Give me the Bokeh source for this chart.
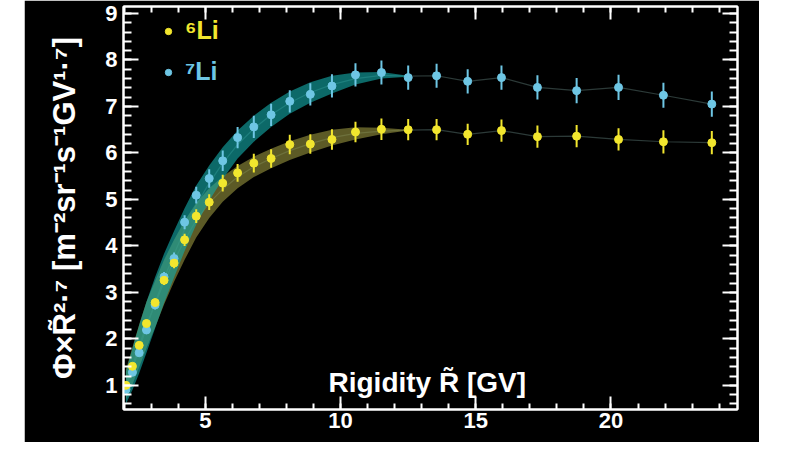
from bokeh.plotting import figure
from bokeh.models import (ColumnDataSource, Range1d, LinearAxis, SingleIntervalTicker,
                          Label, Legend, LegendItem, Spacer)
from bokeh.layouts import row
from bokeh.embed import file_html
from bokeh.resources import INLINE

# ---------------- data ----------------
rigidity = [2.06, 2.30, 2.55, 2.82, 3.14, 3.47, 3.84, 4.23, 4.66, 5.14,
            5.64, 6.19, 6.79, 7.43, 8.12, 8.88, 9.68, 10.55, 11.51, 12.50,
            13.55, 14.70, 15.95, 17.28, 18.73, 20.28, 21.94, 23.73]
li6 = [1.00, 1.41, 1.86, 2.33, 2.78, 3.26, 3.63, 4.13, 4.64, 4.94,
       5.35, 5.57, 5.78, 5.88, 6.18, 6.19, 6.29, 6.45, 6.51, 6.50,
       6.50, 6.40, 6.48, 6.35, 6.36, 6.29, 6.24, 6.22]
li6_err = [0.05, 0.06, 0.07, 0.08, 0.09, 0.10, 0.11, 0.13, 0.15, 0.17,
           0.18, 0.19, 0.20, 0.20, 0.21, 0.21, 0.22, 0.22, 0.23, 0.23,
           0.23, 0.23, 0.24, 0.24, 0.24, 0.24, 0.25, 0.25]
li7 = [0.91, 1.28, 1.70, 2.19, 2.73, 3.33, 3.73, 4.51, 5.09, 5.45,
       5.83, 6.33, 6.56, 6.82, 7.11, 7.26, 7.44, 7.68, 7.73, 7.62,
       7.66, 7.54, 7.62, 7.41, 7.34, 7.41, 7.24, 7.05]
li7_err = [0.05, 0.06, 0.07, 0.08, 0.10, 0.11, 0.13, 0.15, 0.18, 0.20,
           0.22, 0.23, 0.24, 0.24, 0.24, 0.24, 0.25, 0.25, 0.26, 0.26,
           0.26, 0.26, 0.26, 0.26, 0.27, 0.27, 0.27, 0.27]
# smooth model curves (centre of the systematic bands), up to ~12.5 GV
n_band = 20
li6_model = [1.02, 1.42, 1.85, 2.30, 2.75, 3.22, 3.68, 4.12, 4.55, 4.92,
             5.22, 5.48, 5.70, 5.88, 6.05, 6.20, 6.33, 6.42, 6.47, 6.49]
li7_model = [0.95, 1.35, 1.78, 2.25, 2.78, 3.30, 3.82, 4.35, 4.88, 5.35,
             5.78, 6.18, 6.52, 6.82, 7.08, 7.30, 7.47, 7.60, 7.67, 7.65]
# systematic band half-widths
li6_band = [0.32, 0.40, 0.46, 0.50, 0.50, 0.48, 0.45, 0.42, 0.37, 0.32,
            0.27, 0.24, 0.22, 0.21, 0.20, 0.19, 0.17, 0.13, 0.07, 0.01]
li7_band = [0.35, 0.45, 0.52, 0.55, 0.55, 0.53, 0.50, 0.46, 0.42, 0.38,
            0.34, 0.30, 0.28, 0.26, 0.24, 0.22, 0.19, 0.13, 0.07, 0.01]

legend_labels = ["\u2076Li", "\u2077Li"]
x_title = "Rigidity  R\u0303 [GV]"
y_title = "\u03a6\u00d7R\u0303\u00b2\u00b7\u2077 [m\u207b\u00b2sr\u207b\u00b9s\u207b\u00b9GV\u00b9\u00b7\u2077]"

YELLOW = "#f2e62e"
CYAN = "#6ec6e4"
FONT = "Liberation Sans"

src = ColumnDataSource(dict(
    x=rigidity,
    li6=li6, li6_lo=[v - e for v, e in zip(li6, li6_err)], li6_hi=[v + e for v, e in zip(li6, li6_err)],
    li7=li7, li7_lo=[v - e for v, e in zip(li7, li7_err)], li7_hi=[v + e for v, e in zip(li7, li7_err)],
))
band = ColumnDataSource(dict(
    x=rigidity[:n_band],
    li6_lo=[v - b for v, b in zip(li6_model, li6_band)],
    li6_hi=[v + b for v, b in zip(li6_model, li6_band)],
    li7_lo=[v - b for v, b in zip(li7_model, li7_band)],
    li7_hi=[v + b for v, b in zip(li7_model, li7_band)],
))
line6 = ColumnDataSource(dict(x=rigidity[:n_band] + rigidity[n_band:],
                              y=li6_model + li6[n_band:]))
line7 = ColumnDataSource(dict(x=rigidity[:n_band] + rigidity[n_band:],
                              y=li7_model + li7[n_band:]))

p = figure(width=735, height=442,
           x_range=Range1d(1.97, 24.68), y_range=Range1d(0.48, 9.15),
           output_backend="svg", toolbar_location=None,
           background_fill_color="black", border_fill_color="black",
           min_border_left=99, min_border_right=22, min_border_top=6, min_border_bottom=33,
           outline_line_color="white", outline_line_width=2,
           x_axis_location=None, y_axis_location=None)
p.xgrid.visible = False
p.ygrid.visible = False


def style_axis(ax, major_in, minor_in, show_labels):
    ax.axis_line_color = "white"
    ax.axis_line_width = 2
    ax.major_tick_line_color = "white"
    ax.minor_tick_line_color = "white"
    ax.major_tick_line_width = 2
    ax.minor_tick_line_width = 2
    ax.major_tick_in = major_in
    ax.major_tick_out = 0
    ax.minor_tick_in = minor_in
    ax.minor_tick_out = 0
    ax.major_label_text_font = FONT
    ax.major_label_text_font_style = "bold"
    if show_labels:
        ax.major_label_text_color = "white"
        ax.major_label_text_font_size = "22px"
        ax.major_label_standoff = 3
    else:
        ax.major_label_text_color = None
        ax.major_label_text_font_size = "1px"
        ax.major_label_standoff = 0


xticker = SingleIntervalTicker(interval=5, num_minor_ticks=5)
yticker = SingleIntervalTicker(interval=1, num_minor_ticks=5)

xb = LinearAxis(ticker=xticker)
style_axis(xb, 13, 6, True)
xt = LinearAxis(ticker=xticker)
style_axis(xt, 13, 6, False)
yl = LinearAxis(ticker=yticker, axis_label=y_title)
style_axis(yl, 15, 8, True)
yl.major_label_standoff = 6
yl.axis_label_text_color = "white"
yl.axis_label_text_font = FONT
yl.axis_label_text_font_style = "bold"
yl.axis_label_text_font_size = "31px"
yl.axis_label_standoff = 20
yr = LinearAxis(ticker=yticker)
style_axis(yr, 15, 8, False)
p.add_layout(xb, "below")
p.add_layout(xt, "above")
p.add_layout(yl, "left")
p.add_layout(yr, "right")

# model lines
p.line("x", "y", source=line6, line_color="#2c3a38", line_width=1.2)
p.line("x", "y", source=line7, line_color="#2c3a38", line_width=1.2)
# systematic bands
p.varea(x="x", y1="li6_lo", y2="li6_hi", source=band, fill_color="#9a9640", fill_alpha=0.6)
p.varea(x="x", y1="li7_lo", y2="li7_hi", source=band, fill_color="#14aaa8", fill_alpha=0.62)
# error bars
p.segment(x0="x", y0="li7_lo", x1="x", y1="li7_hi", source=src, line_color=CYAN, line_width=2)
p.segment(x0="x", y0="li6_lo", x1="x", y1="li6_hi", source=src, line_color=YELLOW, line_width=2)
r7 = p.scatter("x", "li7", source=src, size=8, fill_color=CYAN, line_color=CYAN)
r6 = p.scatter("x", "li6", source=src, size=8, fill_color=YELLOW, line_color=YELLOW)

p.add_layout(Label(x=13.35, y=1.07, text=x_title, text_align="center", text_baseline="middle",
                   text_color="white", text_font=FONT, text_font_size="28px",
                   text_font_style="bold"))


def make_legend(label, rend, color, loc):
    leg = Legend(items=[LegendItem(label=label, renderers=[rend])], location=loc,
                 background_fill_alpha=0, border_line_alpha=0, padding=0, margin=0,
                 glyph_width=16, glyph_height=20, label_standoff=9,
                 label_text_color=color, label_text_font=FONT, label_text_font_style="bold",
                 label_text_font_size="25px")
    p.add_layout(leg)


make_legend(legend_labels[0], r6, YELLOW, (37, 364))
make_legend(legend_labels[1], r7, CYAN, (37, 323))

layout = row(Spacer(width=24, height=442), p)
open("out.html", "w").write(file_html(layout, INLINE))
